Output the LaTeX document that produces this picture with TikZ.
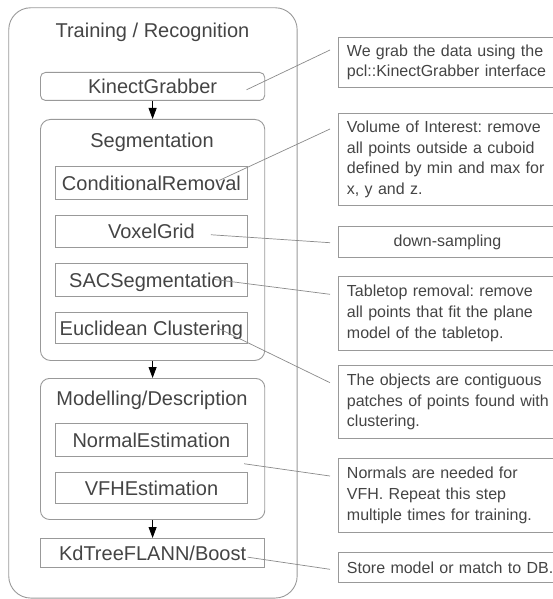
\documentclass[tikz,border=0pt]{standalone}
\usepackage{fontspec}
\setmainfont{Liberation Sans}
\usetikzlibrary{arrows.meta}
\definecolor{ink}{HTML}{444444}
\definecolor{edge}{HTML}{999999}
\definecolor{wirecol}{HTML}{8A8A8A}
\frenchspacing

\begin{document}
\begin{tikzpicture}[x=1pt,y=-1pt,
  caption text/.style={font=\fontsize{20}{24}\selectfont, text=ink},
  frame box/.style={draw=edge, line width=0.9pt, rounded corners=22pt,
    anchor=north west, inner sep=0pt},
  group box/.style={draw=edge, line width=0.9pt, anchor=north west, inner sep=0pt},
  stage/.style={draw=edge, line width=0.9pt, anchor=north west, inner sep=0pt,
    caption text, text height=14.5pt, text depth=0pt, align=center},
  note/.style={draw=edge, line width=0.9pt, anchor=north west, inner xsep=8.5pt,
    inner ysep=0pt, text width=215pt, align=left,
    font=\fontsize{16}{20.8}\selectfont, text=ink},
  flow/.style={-{Triangle[length=11pt,width=8pt]}, line width=0.8pt, black},
  wire/.style={draw=wirecol, line width=0.7pt}]

\useasboundingbox (0,0) rectangle (553,599);
\clip (0,0) rectangle (553,599);

% outer frame and its heading
\node[frame box, minimum width=288.4pt, minimum height=590.3pt] (frame) at (8.3,7.3) {};
\node[caption text, anchor=base] (title) at (152.5,37.3) {Training / Recognition};

% acquisition
\node[stage, rounded corners=5pt, minimum width=224.3pt, minimum height=28pt] (kinect) at (40,72) {KinectGrabber};

% segmentation group
\node[group box, rounded corners=10pt, minimum width=224.3pt, minimum height=241pt] (seg) at (40,119) {};
\node[caption text, anchor=base] (segtitle) at (152,147) {Segmentation};
\node[stage, minimum width=192pt, minimum height=33pt] (cond) at (55,166) {ConditionalRemoval};
\node[stage, minimum width=192pt, minimum height=32pt] (voxel) at (55,215) {VoxelGrid};
\node[stage, minimum width=192pt, minimum height=33pt] (sac) at (55,263) {SACSegmentation};
\node[stage, minimum width=192pt, minimum height=31pt] (eucl) at (55,312) {Euclidean Clustering};

% modelling group
\node[group box, rounded corners=9pt, minimum width=224.3pt, minimum height=141pt] (model) at (40,378) {};
\node[caption text, anchor=base] (modeltitle) at (152,405) {Modelling/Description};
\node[stage, minimum width=192pt, minimum height=33pt] (normal) at (55,423) {NormalEstimation};
\node[stage, minimum width=192pt, minimum height=31pt] (vfh) at (55,472) {VFHEstimation};

% matching
\node[stage, minimum width=224.3pt, minimum height=29pt] (kdtree) at (40,538) {KdTreeFLANN/Boost};

% pipeline arrows
\draw[flow] (kinect) -- (seg);
\draw[flow] (seg) -- (model);
\draw[flow] (model) -- (kdtree);

% explanatory notes
\node[note, minimum height=50pt] (n1) at (338,37)
  {We grab the data using the\\pcl::KinectGrabber interface};
\node[note, minimum height=92pt] (n2) at (338,113)
  {Volume of Interest: remove\\all points outside a cuboid\\defined by min and max for\\x, y and z.};
\node[note, minimum height=31pt, text width=201pt, align=center] (n3) at (338,226) {down-sampling};
\node[note, minimum height=74pt] (n4) at (338,276)
  {Tabletop removal: remove\\all points that fit the plane\\model of the tabletop.};
\node[note, minimum height=73pt] (n5) at (338,365)
  {The objects are contiguous\\patches of points found with\\clustering.};
\node[note, minimum height=74pt] (n6) at (338,458)
  {Normals are needed for\\VFH. Repeat this step\\multiple times for training.};
\node[note, minimum height=30pt] (n7) at (338,552) {Store model or match to DB.};

% leader lines from stages to notes
\coordinate (p1) at ([xshift=-18.6pt,yshift=-3.3pt]kinect.east);
\coordinate (p2) at ([xshift=-28.7pt,yshift=2.5pt]cond.east);
\coordinate (p3) at ([xshift=-37pt,yshift=-3.3pt]voxel.east);
\coordinate (p4) at ([xshift=-33.7pt,yshift=0.5pt]sac.east);
\coordinate (p5) at ([xshift=-28.7pt,yshift=-0.8pt]eucl.east);
\coordinate (p6) at ([xshift=-21pt,yshift=-14.8pt]model.east);
\coordinate (p7) at ([xshift=-17.6pt,yshift=-4.2pt]kdtree.east);

\coordinate (q1) at ([xshift=-8pt,yshift=-13pt]n1.north west);
\coordinate (q2) at ([xshift=-8pt,yshift=-16pt]n2.north west);
\coordinate (q3) at ([xshift=-8pt,yshift=-16.7pt]n3.north west);
\coordinate (q4) at ([xshift=-8pt,yshift=-18.3pt]n4.north west);
\coordinate (q5) at ([xshift=-8pt,yshift=-17.7pt]n5.north west);
\coordinate (q6) at ([xshift=-8pt,yshift=-18pt]n6.north west);
\coordinate (q7) at ([xshift=-8pt,yshift=-17.3pt]n7.north west);

\foreach \k in {1,...,7} { \draw[wire] (p\k) -- (q\k); }
\end{tikzpicture}
\end{document}
